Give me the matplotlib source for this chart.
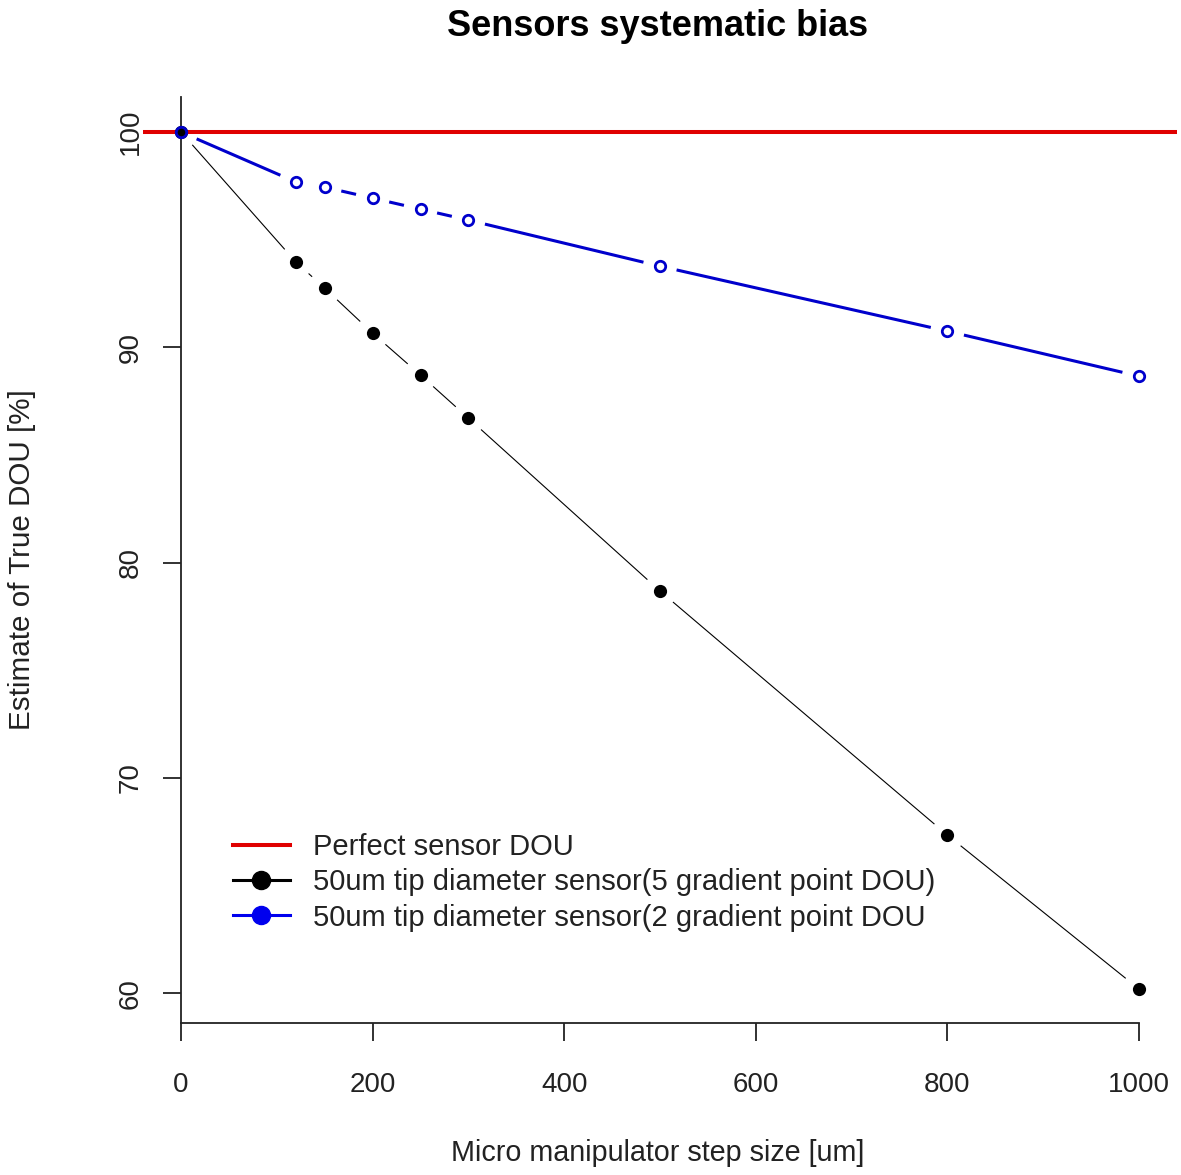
import numpy as np
import matplotlib
matplotlib.use("Agg")
import matplotlib.pyplot as plt
from matplotlib.lines import Line2D

# data
step_um = [0, 120, 150, 200, 250, 300, 500, 800, 1000]
dou_5pt = [100, 93.96, 92.75, 90.66, 88.71, 86.71, 78.68, 67.34, 60.19]
dou_2pt = [100, 97.68, 97.44, 96.93, 96.42, 95.91, 93.77, 90.75, 88.66]
perfect = 100

x_ticks = [0, 200, 400, 600, 800, 1000]
y_ticks = [60, 70, 80, 90, 100]

plt.rcParams['font.family'] = ['Liberation Sans', 'DejaVu Sans']

W, H = 1181, 1175
fig = plt.figure(figsize=(W / 100, H / 100), dpi=100)
ax = fig.add_axes([143 / W, 1 - 1023 / H, (1177 - 143) / W, (1023 - 97) / H])
ax.set_xlim(-39.7, 1039.7)
ax.set_ylim(58.61, 101.63)


def type_b(ax, x, y, gap_px, **kw):
    # R style type="b": segments between points, broken around each point
    tr = ax.transData
    pts = tr.transform(np.column_stack([x, y]))
    for p0, p1 in zip(pts[:-1], pts[1:]):
        d = p1 - p0
        L = np.hypot(*d)
        if L <= 2 * gap_px:
            continue
        u = d / L
        a = tr.inverted().transform([p0 + u * gap_px, p1 - u * gap_px])
        ax.plot(a[:, 0], a[:, 1], solid_capstyle='butt', **kw)


ax.axhline(perfect, color='#e00000', lw=2.9, zorder=2)

type_b(ax, step_um, dou_5pt, 17, color='black', lw=0.8, zorder=3)
ax.plot(step_um, dou_5pt, 'o', color='black', ms=9.5, mew=0, zorder=4)

type_b(ax, step_um, dou_2pt, 17, color='#0000cc', lw=2.2, zorder=3)
ax.plot(step_um, dou_2pt, 'o', mfc='none', mec='#0000cc', ms=7.5, mew=2, zorder=5)

for s in ['top', 'right']:
    ax.spines[s].set_visible(False)
ax.spines['left'].set_position(('data', 0))
ax.spines['bottom'].set_bounds(0, 1000)
for s in ['left', 'bottom']:
    ax.spines[s].set_linewidth(1.3)
    ax.spines[s].set_color('#222222')

ax.set_xticks(x_ticks)
ax.set_yticks(y_ticks)
ax.tick_params(axis='both', length=13, width=1.3, color='#222222', labelsize=20, labelcolor='#222222')
ax.tick_params(axis='x', pad=22)
ax.tick_params(axis='y', pad=14)
for lab in ax.get_yticklabels():
    lab.set_rotation(90)
    lab.set_va('center')

fig.text(658 / W, 1 - 27 / H, 'Sensors systematic bias', ha='center', va='center',
         fontsize=26, fontweight='bold')
fig.text(658 / W, 1 - 1153 / H, 'Micro manipulator step size [um]', ha='center', va='center',
         fontsize=20.7, color='#222222')
fig.text(22 / W, 1 - 560 / H, 'Estimate of True DOU [%]', ha='center', va='center',
         rotation=90, fontsize=21.3, color='#222222')

handles = [
    Line2D([], [], color='#e00000', lw=2.9),
    Line2D([], [], color='black', lw=2.2, marker='o', ms=13),
    Line2D([], [], color='#0000ee', lw=2.2, marker='o', ms=13),
]
labels = ['Perfect sensor DOU',
          '50um tip diameter sensor(5 gradient point DOU)',
          '50um tip diameter sensor(2 gradient point DOU']
ax.legend(handles, labels, loc='upper left', bbox_to_anchor=(233 / W, 1 - 833 / H),
          bbox_transform=fig.transFigure, frameon=False, fontsize=21,
          handlelength=1.95, handletextpad=0.78, labelspacing=0.25, borderpad=0,
          borderaxespad=0, labelcolor='#222222')

fig.savefig('out.png', dpi=100)
